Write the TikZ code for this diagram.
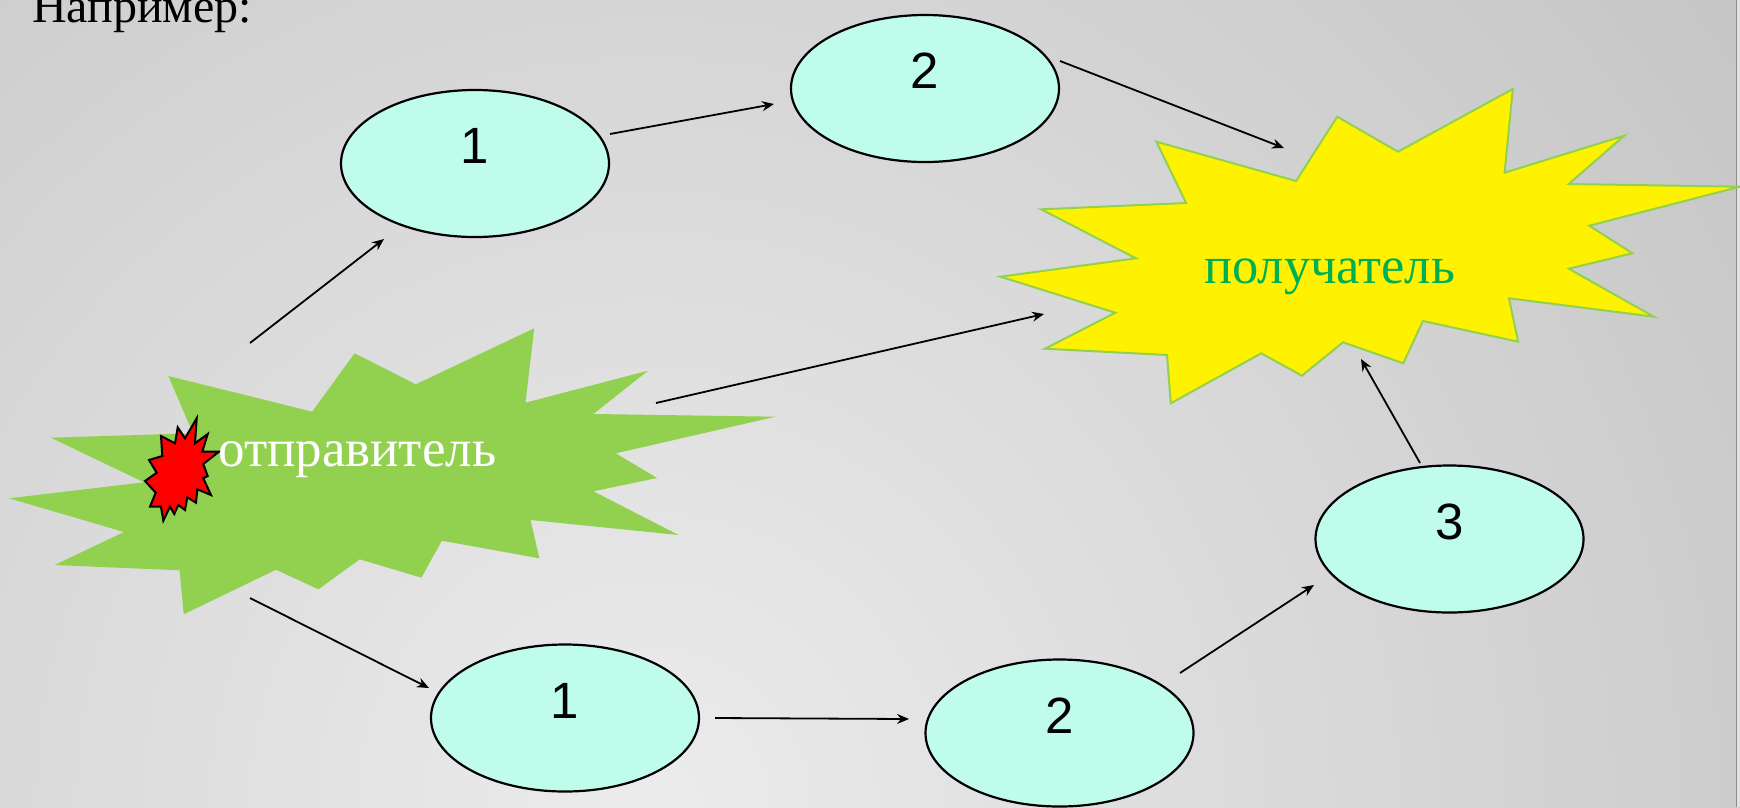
\documentclass[tikz,border=0pt]{standalone}
\usepackage{fontspec}
\setmainfont{Liberation Serif}
\newfontfamily\numfont{Liberation Sans}
\usetikzlibrary{shapes.geometric,arrows.meta}

\definecolor{nodefill}{RGB}{191,252,235}
\definecolor{burstgreen}{RGB}{146,208,80}
\definecolor{textgreen}{RGB}{0,176,80}
\definecolor{bgin}{RGB}{236,236,236}
\definecolor{bgout}{RGB}{166,166,166}
\definecolor{edgeline}{RGB}{140,140,140}
\definecolor{edgestrip}{RGB}{226,226,226}

\begin{document}
\begin{tikzpicture}[x=1pt,y=-1pt,
  stage/.style={ellipse, draw=black, line width=2.2pt, fill=nodefill,
    minimum width=268pt, minimum height=147pt, inner sep=0pt,
    text height=0pt, text depth=0pt,
    font=\numfont\fontsize{51}{51}\selectfont},
  link/.style={line width=1.8pt, -{Stealth[length=12pt,width=10pt,inset=4pt]}},
  burstlabel/.style={anchor=base west, inner sep=0pt, font=\fontsize{53}{60}\selectfont}]

\useasboundingbox (0,0) rectangle (1740,807);
\clip (0,0) rectangle (1740,807);

% slide background
\shade[inner color=bgin, outer color=bgout] (650,807) circle (2450pt);
\fill[edgestrip] (1737.3,0) rectangle (1740,807);
\draw[edgeline, line width=1pt] (1736.8,0) -- (1736.8,807);

% heading
\node[anchor=base west, inner sep=0pt, font=\fontsize{48}{58}\selectfont] (heading) at (32,22) {Например:};

% sender burst
\fill[burstgreen] (168.4,376) -- (312.2,411.7) -- (354.6,353.3) -- (415.8,384.3)
  -- (534.2,328.3) -- (525.5,402.7) -- (648,370.7) -- (593.4,414) -- (775.5,416.7)
  -- (615.8,453.3) -- (657.1,478) -- (593.4,491.3) -- (678.6,535) -- (530.6,520)
  -- (539.3,558.3) -- (441.8,540.7) -- (421.4,577.7) -- (359.7,559.3) -- (318.4,589.3)
  -- (276,569.7) -- (183.7,614.3) -- (179.6,570.3) -- (54.6,565) -- (124,532)
  -- (9.2,498.3) -- (143.9,482.3) -- (51,437.7) -- (192.9,433.3) -- cycle;

% small red flash
\filldraw[fill=red, draw=black, line width=2pt, line join=miter]
  (196.7,418.3) -- (195,443.3) -- (207.7,434) -- (202.3,451.7) -- (219,451.7)
  -- (203.3,464) -- (207.7,476) -- (203.3,478.3) -- (211,495) -- (197.3,489.3)
  -- (196,502.7) -- (187.3,497.3) -- (185,510) -- (178.3,505) -- (174.3,514)
  -- (170,506.7) -- (163.3,520.7) -- (161,506.7) -- (150,506.7) -- (155.7,492.7)
  -- (145,481) -- (156.7,472.7) -- (149,460) -- (162.3,456) -- (161,436)
  -- (175,443.3) -- (177.7,427.3) -- (185,438.3) -- cycle;

\node[burstlabel, text=white] (sender) at (218,466) {отправитель};

% receiver burst
\filldraw[fill=yellow, draw=burstgreen, line width=2pt, line join=miter]
  (1156.4,141.7) -- (1296.1,181) -- (1337.2,116.7) -- (1398,151.7) -- (1512.8,89)
  -- (1504.6,172.7) -- (1624.2,135.7) -- (1568.7,184) -- (1740,186.7) -- (1589.3,225.7)
  -- (1632.4,253.3) -- (1568.7,268.7) -- (1653.9,316.7) -- (1509,298.3) -- (1518.1,341.7)
  -- (1422.9,321) -- (1403.3,363.3) -- (1343,342.3) -- (1301.9,375.7) -- (1261.2,353.3)
  -- (1170.8,403.3) -- (1167,355) -- (1045,348.7) -- (1115.3,312.7) -- (1000.5,276.7)
  -- (1135.9,258.3) -- (1041.2,209.3) -- (1186.1,203) -- cycle;

\node[burstlabel, text=textgreen, font=\fontsize{52.5}{60}\selectfont] (receiver) at (1204,283) {получатель};

% intermediate nodes
\node[stage] (t1) at (475,163.5) {1};
\node[stage] (t2) at (925,88.5) {2};
\node[stage] (b1) at (565,718) {1};
\node[stage] (b2) at (1059.5,733) {2};
\node[stage] (e3) at (1449.5,539) {3};

% loose ends at the bursts
\coordinate (sendUp) at (250,343);
\coordinate (sendMid) at (656,403);
\coordinate (sendDown) at (250,598);
\coordinate (recvTop) at (1284,148);
\coordinate (recvMid) at (1044,314);
\coordinate (recvLow) at (1361,359);

% routes
\draw[link] (sendUp) -- ([shift={(-91,75.5)}]t1.center);
\draw[link] ([shift={(135,-29.5)}]t1.center) -- ([shift={(-151,15.5)}]t2.center);
\draw[link] ([shift={(135,-27.5)}]t2.center) -- (recvTop);
\draw[link] (sendMid) -- (recvMid);
\draw[link] (sendDown) -- ([shift={(-136,-30)}]b1.center);
\draw[link] ([shift={(150,0)}]b1.center) -- ([shift={(-150.5,-14)}]b2.center);
\draw[link] ([shift={(120.5,-60)}]b2.center) -- ([shift={(-135.5,46)}]e3.center);
\draw[link] ([shift={(-29.5,-76)}]e3.center) -- (recvLow);

\end{tikzpicture}
\end{document}
